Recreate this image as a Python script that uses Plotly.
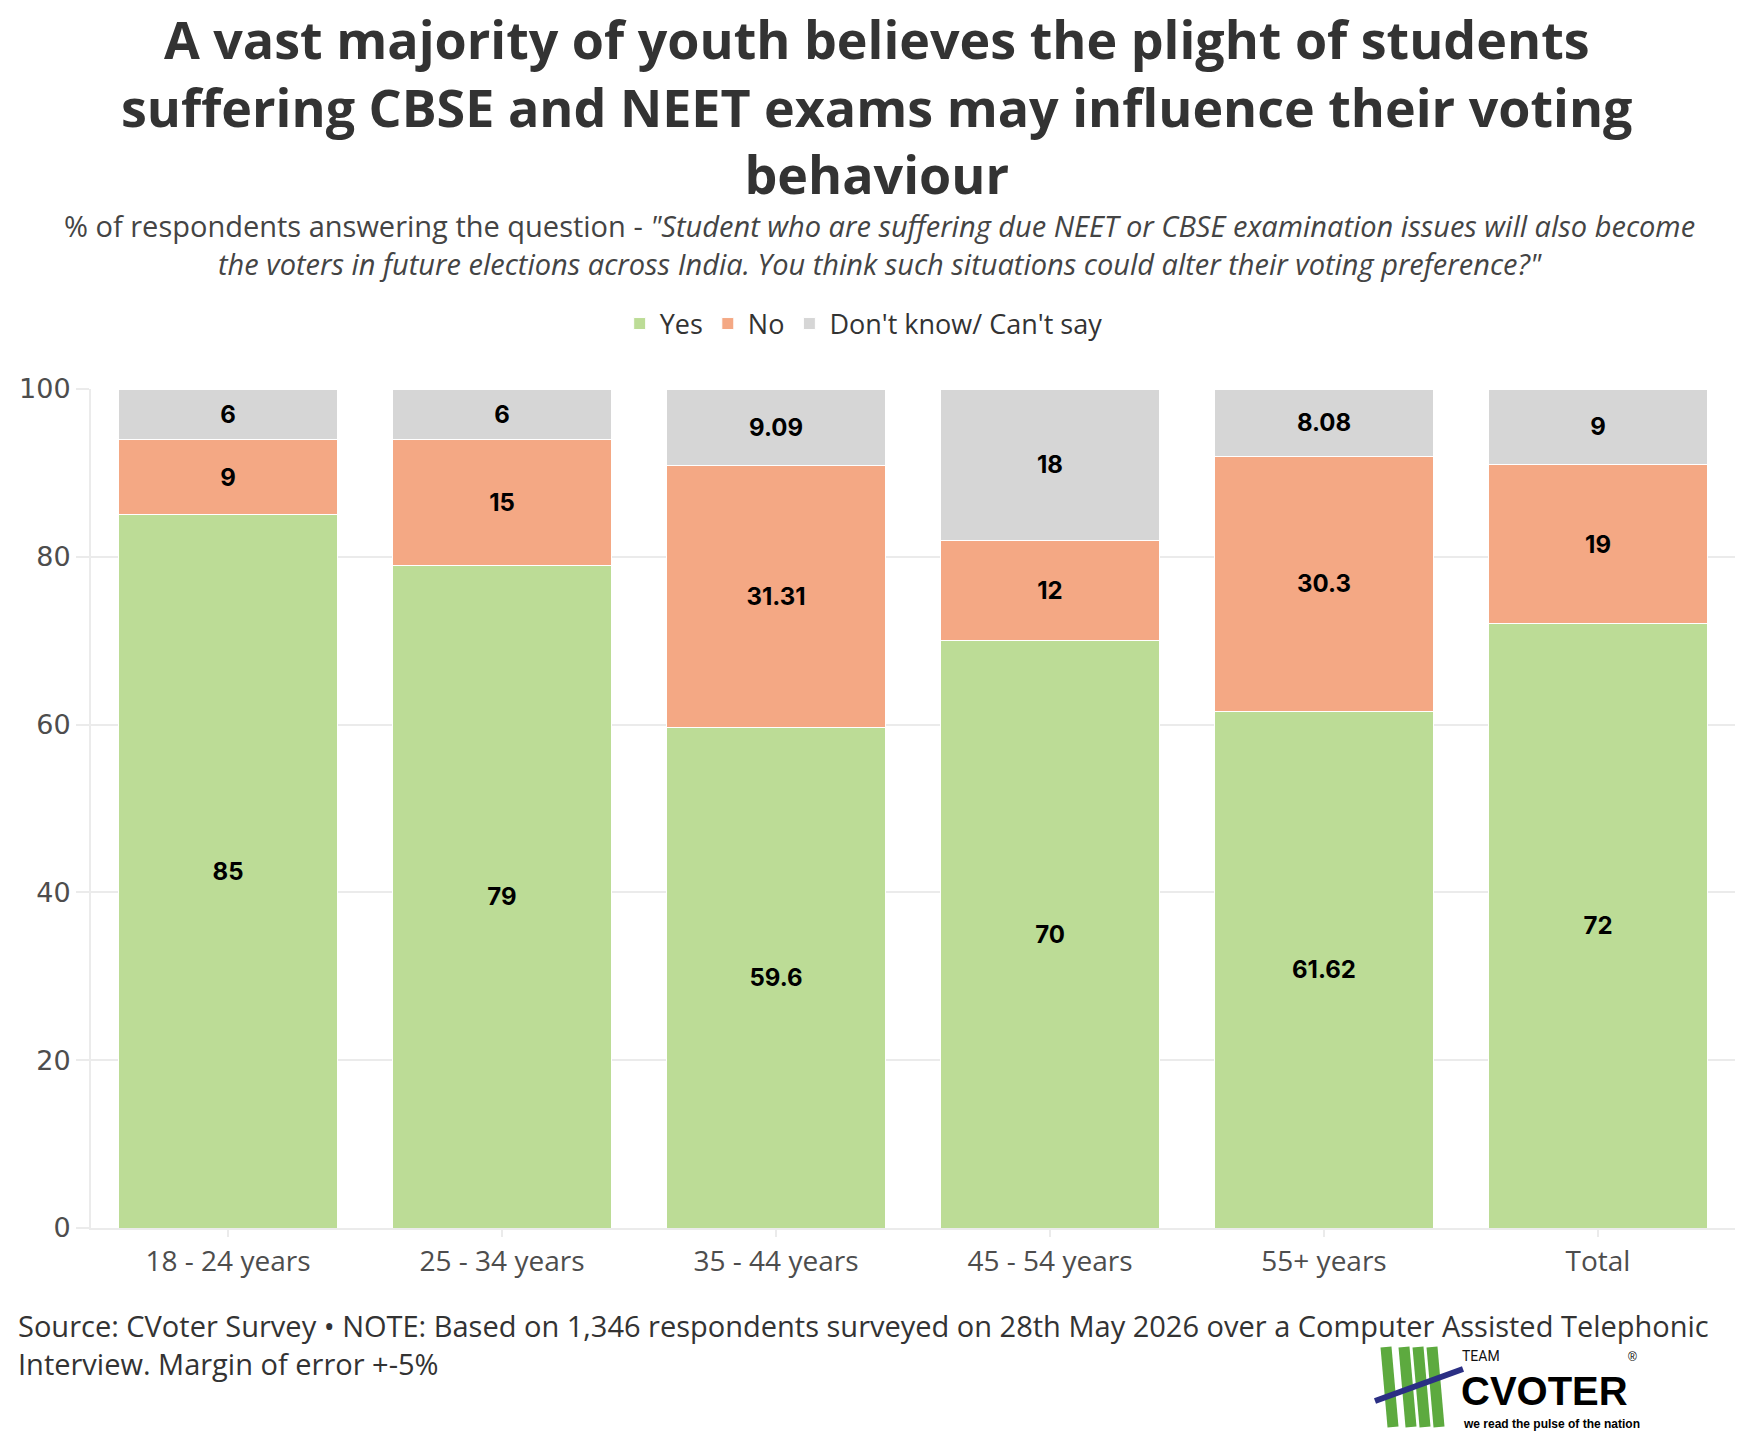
import plotly.graph_objects as go

categories = ["18 - 24 years", "25 - 34 years", "35 - 44 years", "45 - 54 years", "55+ years", "Total"]
yes_vals = [85, 79, 59.6, 70, 61.62, 72]
no_vals = [9, 15, 31.31, 12, 30.3, 19]
dk_vals = [6, 6, 9.09, 18, 8.08, 9]
series_names = ["Yes", "No", "Don't know/ Can't say"]
series_colors = ["#BCDC96", "#F4A884", "#D6D6D6"]
y_ticks = [0, 20, 40, 60, 80, 100]

title_text = ("<b>A vast majority of youth believes the plight of students<br>"
              "suffering CBSE and NEET exams may influence their voting<br>behaviour</b>")
subtitle_text = ("% of respondents answering the question - <i>\"Student who are suffering due NEET or CBSE examination issues will also become</i><br>"
                 "<i>the voters in future elections across India. You think such situations could alter their voting preference?\"</i>")
footer_lines = ["Source: CVoter Survey • NOTE: Based on 1,346 respondents surveyed on 28th May 2026 over a Computer Assisted Telephonic",
                "Interview. Margin of error +-5%"]

W, H = 1752, 1434
ML, MR, MT, MB = 91, 17, 389, 206
PW, PH = W - ML - MR, H - MT - MB

def px(x):
    return (x - ML) / PW

def py(y):
    return (H - MB - y) / PH

BODY = "Open Sans, Noto Sans, sans-serif"
NUM = "DejaVu Sans, Inter, sans-serif"
LAB = "Inter, DejaVu Sans, sans-serif"

fig = go.Figure()
for name, vals, col in zip(series_names, [yes_vals, no_vals, dk_vals], series_colors):
    fig.add_trace(go.Bar(
        x=categories, y=vals, name=name,
        marker=dict(color=col, line=dict(color="white", width=1)),
        texttemplate="%{y}", textposition="inside", insidetextanchor="middle",
        textangle=0, constraintext="none",
        textfont=dict(family=LAB, size=24, color="black", weight="bold"),
    ))

fig.update_layout(
    width=W, height=H, barmode="stack", bargap=0.2,
    margin=dict(l=ML, r=MR, t=MT, b=MB),
    plot_bgcolor="white", paper_bgcolor="white",
    legend=dict(orientation="h", x=0.47, xanchor="center", y=py(324), yanchor="middle",
                font=dict(family=BODY, size=27, color="#333333"), traceorder="normal",
                itemclick=False),
    font=dict(family=BODY, color="#333333"),
    showlegend=True,
)

fig.update_yaxes(range=[0, 100], tickvals=y_ticks, showgrid=True, gridcolor="#EBEBEB", gridwidth=2,
                 showline=True, linecolor="#EBEBEB", linewidth=2, zeroline=False,
                 ticks="outside", ticklen=13, tickcolor="#EBEBEB", tickwidth=2,
                 tickfont=dict(family=NUM, size=27, color="#4d4d4d"))
fig.update_xaxes(showline=True, linecolor="#EBEBEB", linewidth=2,
                 ticks="outside", ticklen=7, tickcolor="#EBEBEB", tickwidth=2,
                 tickfont=dict(family=BODY, size=28, color="#4d4d4d"))

annotations = [
    dict(text=title_text, x=px(W / 2), xref="paper", y=py(106), yref="paper",
         xanchor="center", yanchor="middle", showarrow=False,
         font=dict(family=BODY, size=52, color="#333333")),
    dict(text=subtitle_text, x=px(879), xref="paper", y=py(245), yref="paper",
         xanchor="center", yanchor="middle", showarrow=False,
         font=dict(family=BODY, size=29, color="#444444")),
]
for line, yc in zip(footer_lines, [1325, 1363]):
    annotations.append(dict(text=line, x=px(16), xref="paper", y=py(yc), yref="paper",
                            xanchor="left", yanchor="middle", showarrow=False,
                            font=dict(family=BODY, size=29, color="#333333")))
# logo text
annotations += [
    dict(text="TEAM", x=px(1460), xref="paper", y=py(1356), yref="paper", xanchor="left",
         yanchor="middle", showarrow=False,
         font=dict(family="Roboto, sans-serif", size=14, color="#111111")),
    dict(text="CVOTER", x=px(1459), xref="paper", y=py(1391), yref="paper", xanchor="left",
         yanchor="middle", showarrow=False,
         font=dict(family="Liberation Sans, Arial, sans-serif", size=40, color="#000000", weight="bold")),
    dict(text="®", x=px(1632), xref="paper", y=py(1357), yref="paper", xanchor="center",
         yanchor="middle", showarrow=False,
         font=dict(family="Liberation Sans, Arial, sans-serif", size=12, color="#000000")),
    dict(text="we read the pulse of the nation", x=px(1461), xref="paper", y=py(1424), yref="paper",
         xanchor="left", yanchor="middle", showarrow=False,
         font=dict(family="Liberation Sans, sans-serif", size=12,
                   color="#000000", weight="bold")),
]
fig.update_layout(annotations=annotations)

shapes = []
for x0, x1 in [(1386, 1393), (1404, 1411), (1418, 1425), (1432, 1439)]:
    shapes.append(dict(type="line", xref="paper", yref="paper",
                       x0=px(x0), y0=py(1347), x1=px(x1), y1=py(1427),
                       line=dict(color="#5DAA3F", width=11)))
shapes.append(dict(type="line", xref="paper", yref="paper",
                   x0=px(1375), y0=py(1401), x1=px(1463), y1=py(1369),
                   line=dict(color="#2B2F84", width=6)))
fig.update_layout(shapes=shapes)

fig.write_html("out.html")
